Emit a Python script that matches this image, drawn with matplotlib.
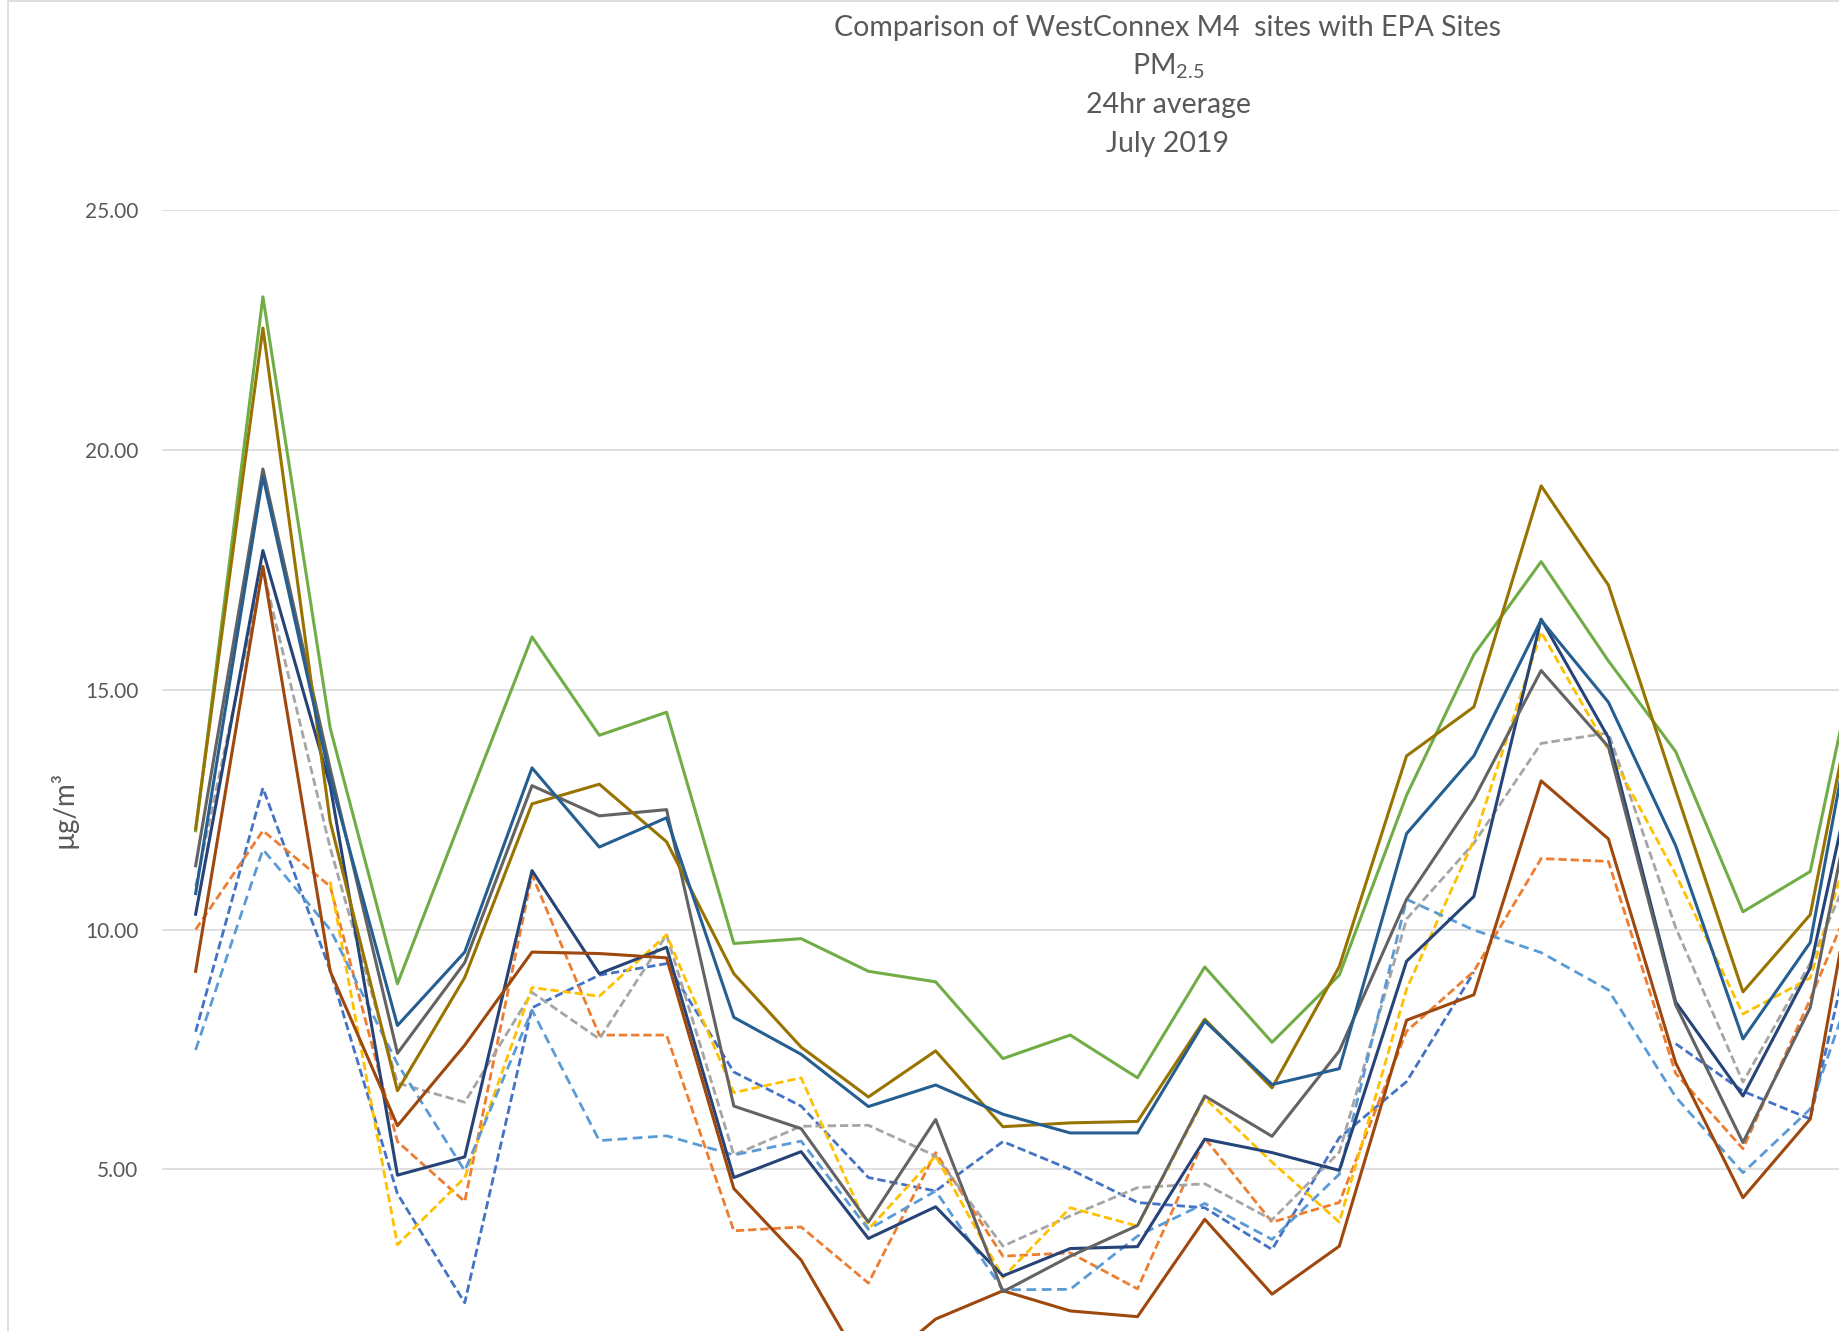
import numpy as np
import matplotlib.pyplot as plt
from matplotlib.patches import Rectangle

plt.rcParams['font.family'] = ['Lato', 'DejaVu Sans']
plt.rcParams['mathtext.fontset'] = 'custom'
plt.rcParams['mathtext.rm'] = 'Lato'

nan = np.nan

# days of July 2019 (the chart is cut off after day 25)
days = np.arange(1, 27)

# EPA sites (dashed)
epa_blue = [7.87, 12.95, 9.15, 4.49, 2.22, 8.37, 9.05, 9.29, 7.03, 6.32, 4.83, 4.55, 5.58,
            5.0, 4.31, 4.2, 3.33, 5.66, 6.83, 9.11, nan, nan, 7.62, 6.63, 6.05, 12.2]
epa_orange = [10.0, 12.06, 10.9, 5.58, 4.33, 11.14, 7.8, 7.8, 3.72, 3.8, 2.63, 5.35, 3.19,
              3.26, 2.51, 5.65, 3.9, 4.31, 7.88, 9.13, 11.48, 11.42, 7.0, 5.43, 8.55, 11.9]
epa_grey = [10.9, 17.5, 11.7, 6.8, 6.4, 8.69, 7.72, 9.89, 5.3, 5.9, 5.92, 5.28, 3.4,
            4.03, 4.62, 4.7, 3.95, 5.36, 10.22, 11.8, 13.88, 14.1, 10.04, 6.82, 9.3, 12.5]
epa_yellow = [nan, nan, 11.0, 3.43, 4.83, 8.79, 8.61, 9.89, 6.6, 6.91, 3.75, 5.28, 2.75,
              4.2, 3.82, 6.49, 5.15, 3.9, 8.76, 11.86, 16.2, 13.75, 11.15, 8.24, 8.99, 13.7]
epa_lightblue = [7.49, 11.67, 10.0, 7.2, 4.97, 8.32, 5.6, 5.7, 5.3, 5.59, 3.75, 4.55, 2.49,
                 2.5, 3.61, 4.29, 3.54, 4.9, 10.63, 9.99, 9.52, 8.74, 6.51, 4.93, 6.26, 10.4]

# WestConnex M4 sites (solid)
m4_green = [12.06, 23.19, 14.2, 8.87, 12.5, 16.1, 14.05, 14.53, 9.71, 9.81, 9.13, 8.91, 7.31,
            7.8, 6.91, 9.22, 7.65, 9.05, 12.8, 15.73, 17.67, 15.6, 13.71, 10.37, 11.21, 17.8]
m4_navy = [10.32, 17.9, 13.0, 4.88, 5.26, 11.23, 9.08, 9.63, 4.83, 5.37, 3.56, 4.22, 2.78,
           3.35, 3.39, 5.63, 5.35, 4.98, 9.34, 10.69, 16.47, 14.0, 8.49, 6.53, 9.2, 15.6]
m4_brown = [9.13, 17.57, 9.13, 5.91, 7.59, 9.53, 9.5, 9.41, 4.6, 3.11, 0.7, 1.88, 2.47,
            2.05, 1.93, 3.96, 2.4, 3.4, 8.11, 8.64, 13.1, 11.89, 7.22, 4.41, 6.05, 13.9]
m4_darkgrey = [11.33, 19.6, 13.35, 7.42, 9.31, 13.0, 12.37, 12.5, 6.32, 5.85, 3.9, 6.04, 2.45,
               3.19, 3.83, 6.53, 5.69, 7.47, 10.63, 12.72, 15.4, 13.81, 8.43, 5.56, 8.37, 15.4]
m4_gold = [12.1, 22.54, 12.25, 6.64, 9.0, 12.62, 13.03, 11.83, 9.08, 7.55, 6.51, 7.47, 5.89,
           5.97, 6.0, 8.13, 6.7, 9.23, 13.62, 14.64, 19.25, 17.18, 12.9, 8.7, 10.31, 17.4]
m4_blue = [10.75, 19.45, 13.15, 8.0, 9.53, 13.37, 11.72, 12.33, 8.17, 7.4, 6.31, 6.76, 6.15,
           5.76, 5.76, 8.09, 6.77, 7.1, 12.0, 13.62, 16.45, 14.74, 11.75, 7.72, 9.73, 17.3]

W, H = 1839, 1331
fig = plt.figure(figsize=(W / 100, H / 100), dpi=100)

# chart area border (only left and top are visible)
fig.add_artist(Rectangle((8 / W, -0.1), 2, 1.1 - 1.5 / H, transform=fig.transFigure,
                         fill=False, ec='#D9D9D9', lw=1.2))

ax = fig.add_axes([162 / W, 0, 1 - 162 / W, 1 - 210 / H])

dashed = [(epa_blue, '#4472C4', (3, 1.4)),
          (epa_orange, '#ED7D31', (3, 1.4)),
          (epa_grey, '#A5A5A5', (3, 1.4)),
          (epa_yellow, '#FFC000', (3, 1.4)),
          (epa_lightblue, '#5B9BD5', (3.5, 2))]
for vals, c, d in dashed:
    ax.plot(days, vals, color=c, lw=2.0, dashes=d)

solid = [(m4_green, '#70AD47'), (m4_navy, '#264478'), (m4_brown, '#9E480E'),
         (m4_darkgrey, '#636363'), (m4_gold, '#997300'), (m4_blue, '#255E91')]
for vals, c in solid:
    ax.plot(days, vals, color=c, lw=2.2)

ax.set_xlim(0.5, 1 + (W - 196) / 67.26)
ax.set_ylim(25 - (H - 210) / 47.97, 25)
ax.set_xticks([])
yt = [5, 10, 15, 20, 25]
ax.set_yticks(yt)
ax.set_yticklabels([f"{v:.2f}" for v in yt], fontsize=15, color='#595959')
ax.tick_params(axis='y', length=0, pad=17)
ax.yaxis.grid(True, color='#D9D9D9', lw=1.2)
ax.set_axisbelow(True)
for s in ax.spines.values():
    s.set_visible(False)

fig.text(64 / W, 1 - 809 / H, 'µg/m³', rotation=90, ha='center', va='center',
         fontsize=20, color='#595959')

tx = 1168 / W
title_kw = dict(ha='center', va='center', fontsize=20.5, color='#595959')
fig.text(tx, 1 - 28 / H, 'Comparison of WestConnex M4  sites with EPA Sites', **title_kw)
fig.text(tx, 1 - 66 / H, r'PM$_{\mathrm{2.5}}$', **title_kw)
fig.text(tx, 1 - 105 / H, '24hr average', **title_kw)
fig.text(tx, 1 - 144 / H, 'July 2019', **title_kw)

fig.savefig('out.png', dpi=100)
